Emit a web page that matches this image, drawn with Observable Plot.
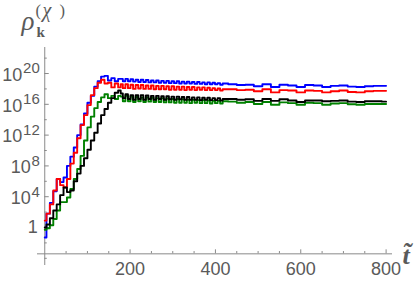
<!DOCTYPE html>
<html><head><meta charset="utf-8">
<script src="https://cdn.jsdelivr.net/npm/d3@7"></script>
<script src="https://cdn.jsdelivr.net/npm/@observablehq/plot@0.6"></script>
<style>body{margin:0;background:#fff}</style>
</head><body><div id="chart"></div>
<script>
// time axis (t-tilde)
const time = [
  0,8,16,24,32,40,48,56,64,72,80,88,96,104,112,120,128,136,144,152,160,168,176,
  180,186,192,198,204,210,216,222,228,234,240,246,252,258,264,270,276,282,288,294,300,306,312,318,324,330,336,342,348,354,360,366,372,378,384,390,396,402,408,414,420,
  440,460,480,500,520,540,560,580,600,620,640,660,680,700,720,740,760,780,800
];
// log10 of rho values
const blueExp = [
  -1.3,1.8,3.2,4.7,6.3,5.9,6.5,8.0,9.2,10.4,12.0,13.4,14.8,16.2,17.1,18.3,19.0,19.6,19.7,19.1,19.4,19.0,19.3,
  19.3,19.0,19.3,19.0,19.25,18.95,19.2,18.9,19.2,18.9,19.15,18.85,19.1,18.85,19.1,18.8,19.05,18.8,19.05,18.75,19.0,18.75,19.0,18.7,18.95,18.7,18.95,18.7,18.9,18.65,18.9,18.65,18.85,18.6,18.85,18.6,18.8,18.6,18.75,18.55,18.7,
  18.6,18.5,18.55,18.35,18.6,18.25,18.55,18.45,18.25,18.5,18.45,18.25,18.4,18.45,18.3,18.25,18.35,18.4,18.4
];
const redExp = [
  0.9,1.8,3.0,4.8,6.3,5.5,5.2,6.3,8.3,9.7,11.6,13.3,14.6,15.9,17.2,18.1,18.8,19.2,18.7,18.8,18.2,18.7,18.2,
  18.6,18.1,18.6,18.1,18.55,18.0,18.5,18.05,18.5,18.0,18.45,18.0,18.45,17.95,18.4,17.95,18.4,17.95,18.35,17.9,18.35,17.9,18.3,17.9,18.3,17.85,18.25,17.9,18.25,17.85,18.2,17.9,18.2,17.85,18.15,17.85,18.1,17.85,18.05,17.8,17.95,
  17.95,17.85,17.9,17.7,17.95,17.55,17.85,17.8,17.55,17.8,17.75,17.55,17.7,17.8,17.6,17.55,17.7,17.75,17.75
];
const blackExp = [
  0.0,0.4,1.2,2.2,3.0,4.2,5.2,4.6,4.8,6.0,7.0,8.0,9.0,10.1,11.3,12.3,13.5,14.6,15.4,16.2,16.8,17.5,17.8,
  17.4,16.8,17.3,16.7,17.2,16.6,17.2,16.7,17.2,16.6,17.15,16.7,17.1,16.6,17.1,16.7,17.05,16.6,17.05,16.65,17.0,16.6,17.0,16.65,16.95,16.6,16.95,16.6,16.9,16.6,16.9,16.55,16.85,16.6,16.85,16.55,16.8,16.55,16.8,16.5,16.7,
  16.7,16.6,16.65,16.45,16.7,16.45,16.65,16.5,16.3,16.5,16.5,16.4,16.45,16.5,16.35,16.3,16.4,16.4,16.35
];
const greenExp = [
  -0.3,-0.1,0.3,1.1,2.2,3.3,3.3,3.9,5.0,6.3,7.6,9.3,11.3,13.0,14.4,15.5,16.3,16.9,17.3,16.8,17.1,16.7,17.1,
  17.0,16.4,17.1,16.4,17.0,16.3,16.95,16.4,16.9,16.3,16.9,16.35,16.85,16.3,16.8,16.3,16.8,16.25,16.75,16.25,16.7,16.2,16.7,16.2,16.65,16.2,16.6,16.15,16.6,16.2,16.55,16.15,16.55,16.15,16.5,16.1,16.45,16.15,16.45,16.1,16.4,
  16.35,16.2,16.3,16.05,16.3,15.95,16.25,16.15,15.95,16.2,16.15,15.95,16.1,16.15,16.0,15.95,16.05,16.05,16.05
];
const seriesNames = ["blue","red","green","black"];
const seriesColors = ["#0000ff","#ff0000","#00a000","#000000"];
const seriesExps = [blueExp, redExp, greenExp, blackExp];

// axis ticks
const xMajorTicks = [200,400,600,800];
const xMinorTicks = [50,100,150,250,300,350,450,500,550,650,700,750];
const yMajorExps = [0,4,8,12,16,20];
const yMinorExps = [-4,-2,2,6,10,14,18,22];
const yLabelExps1 = [4,8];
const yLabelExps2 = [12,16,20];
const xAxisAt = 10 ** -3.42;   // y value where horizontal axis crosses

const axisColor = "#8a8a8a";
const labelColor = "#5a5a5a";

const rows = seriesExps.flatMap((ex, i) => time.map((t, j) => ({series: seriesNames[i], t, v: 10 ** ex[j]})));

const tickUp = (len) => 10 ** (len / 7.7);
const sans = "Liberation Sans, Arial, Helvetica, sans-serif";
const serif = "Liberation Serif, Times New Roman, serif";

const chart = Plot.plot({
  width: 414, height: 281,
  marginTop: 47, marginBottom: 16, marginLeft: 37, marginRight: 22,
  style: {fontFamily: sans, background: "#fff"},
  x: {domain: [-17, 815], axis: null},
  y: {type: "log", domain: [10 ** -4.935, 10 ** 23.38], axis: null},
  marks: [
    Plot.ruleX([0], {stroke: axisColor, strokeWidth: 1}),
    Plot.ruleY([xAxisAt], {stroke: axisColor, strokeWidth: 1}),
    Plot.ruleX(xMajorTicks, {x: d => d, y1: xAxisAt, y2: xAxisAt * tickUp(4), stroke: axisColor}),
    Plot.ruleX(xMinorTicks, {x: d => d, y1: xAxisAt, y2: xAxisAt * tickUp(2.3), stroke: axisColor}),
    Plot.ruleY(yMajorExps, {y: d => 10 ** d, x1: 0, x2: 10.5, stroke: axisColor}),
    Plot.ruleY(yMinorExps, {y: d => 10 ** d, x1: 0, x2: 5.9, stroke: axisColor}),
    Plot.text(xMajorTicks, {x: d => d, y: xAxisAt, dy: 15, text: d => String(d), fontSize: 18, fill: labelColor, lineAnchor: "middle"}),
    Plot.text([0], {x: 0, y: 1, text: () => "1", textAnchor: "end", dx: -7, dy: 0, fontSize: 18, fill: labelColor, lineAnchor: "middle"}),
    Plot.text(yLabelExps1, {x: 0, y: d => 10 ** d, text: () => "10", textAnchor: "end", dx: -14, dy: 1.5, fontSize: 18, fill: labelColor, lineAnchor: "middle"}),
    Plot.text(yLabelExps2, {x: 0, y: d => 10 ** d, text: () => "10", textAnchor: "end", dx: -22.5, dy: 1.5, fontSize: 18, fill: labelColor, lineAnchor: "middle"}),
    Plot.text([...yLabelExps1, ...yLabelExps2], {x: 0, y: d => 10 ** d, text: d => String(d), textAnchor: "end", dx: -5, dy: -5, fontSize: 15, fill: labelColor, lineAnchor: "middle"}),
    Plot.line(rows, {x: "t", y: "v", z: "series", stroke: "series", strokeWidth: 1.9, curve: "step"}),
    // axis titles
    Plot.text(["ρ"], {frameAnchor: "top-left", text: d => d, dx: -16, dy: -18, textAnchor: "start", lineAnchor: "bottom", fontSize: 27, fontStyle: "italic", fontFamily: serif, fill: labelColor}),
    Plot.text(["k"], {frameAnchor: "top-left", text: d => d, dx: -1, dy: -11, textAnchor: "start", lineAnchor: "bottom", fontSize: 15, fontWeight: "bold", fontFamily: serif, fill: labelColor}),
    Plot.text(["("], {frameAnchor: "top-left", text: d => d, dx: -2, dy: -31.5, textAnchor: "start", lineAnchor: "bottom", fontSize: 16.5, fontFamily: serif, fill: labelColor}),
    Plot.text(["χ"], {frameAnchor: "top-left", text: d => d, dx: 5, dy: -31, textAnchor: "start", lineAnchor: "bottom", fontSize: 20, fontStyle: "italic", fontFamily: serif, fill: labelColor}),
    Plot.text([")"], {frameAnchor: "top-left", text: d => d, dx: 22, dy: -31.5, textAnchor: "start", lineAnchor: "bottom", fontSize: 16.5, fontFamily: serif, fill: labelColor}),
    Plot.text(["t\u0303"], {frameAnchor: "bottom-right", text: d => d, dx: 10, dy: -2, textAnchor: "start", lineAnchor: "bottom", fontSize: 26, fontStyle: "italic", fontWeight: "bold", fontFamily: serif, fill: labelColor})
  ],
  color: {domain: seriesNames, range: seriesColors}
});
document.getElementById("chart").appendChild(chart);
</script>
</body></html>
